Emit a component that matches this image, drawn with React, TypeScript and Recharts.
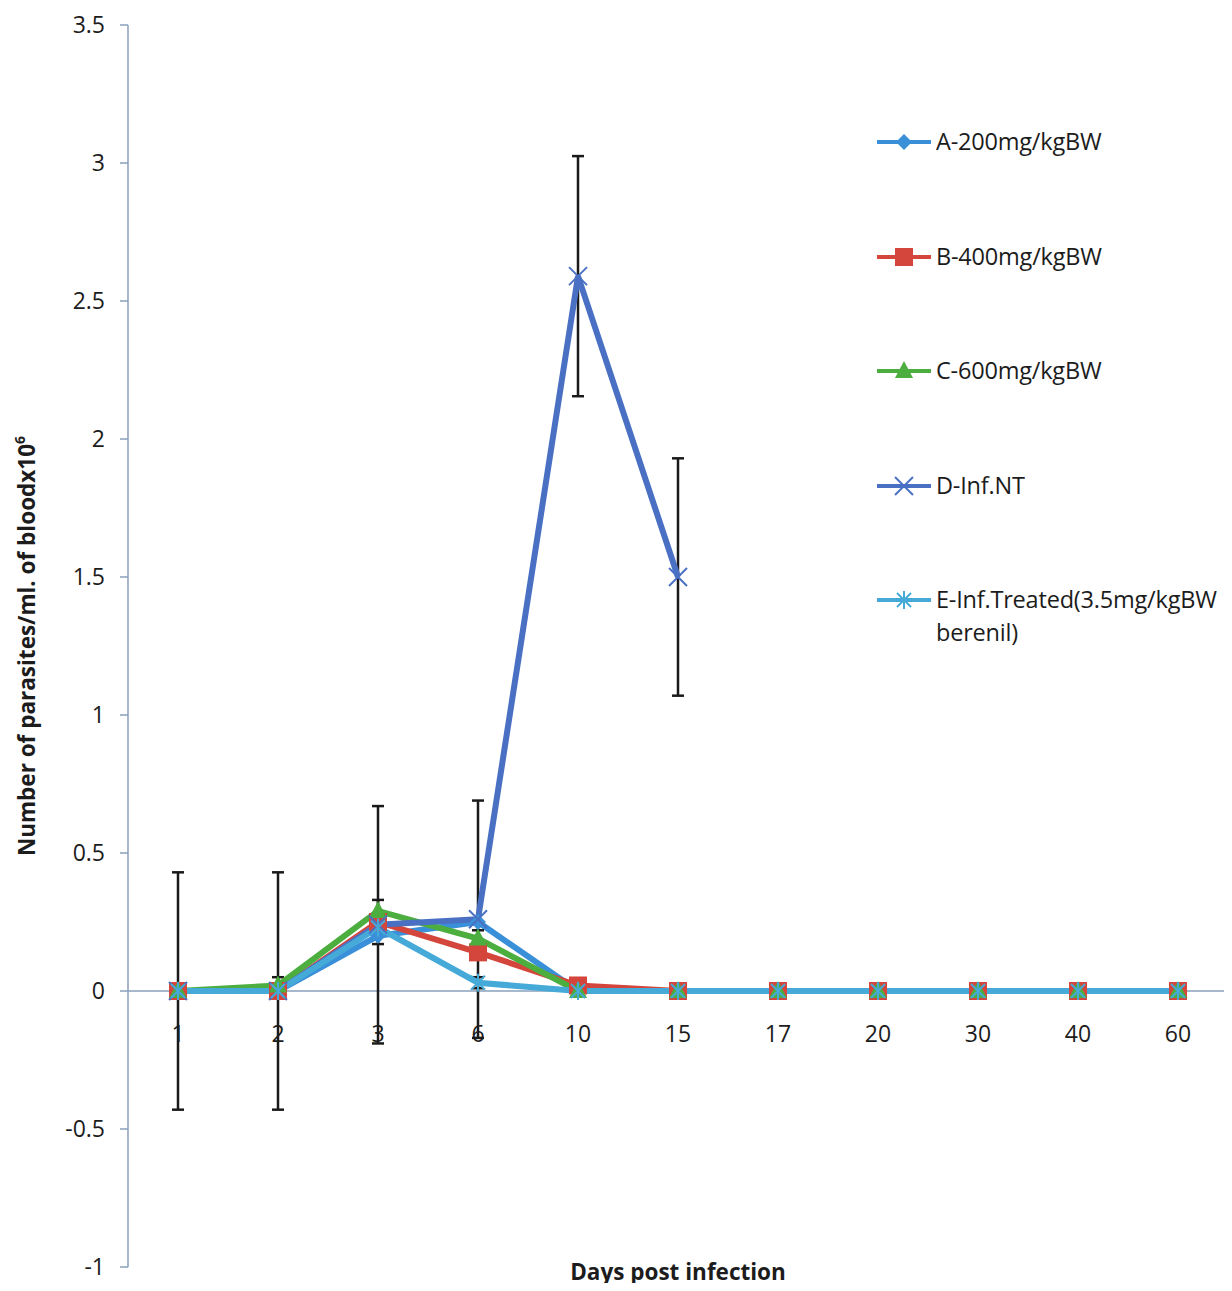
import React from 'react';
import {
  LineChart,
  Line,
  XAxis,
  YAxis,
  ReferenceLine,
  ReferenceDot,
  ErrorBar,
  Legend,
} from 'recharts';

// Days post infection (categorical x positions)
const days = ['1', '2', '3', '6', '10', '15', '17', '20', '30', '40', '60'];

// Parasitaemia (x10^6 parasites / ml of blood) per group
const groupA = [0, 0, 0.2, 0.25, 0, 0, 0, 0, 0, 0, 0];
const groupB = [0, 0, 0.25, 0.14, 0.02, 0, 0, 0, 0, 0, 0];
const groupC = [0, 0.02, 0.29, 0.19, 0, 0, 0, 0, 0, 0, 0];
const groupD = [0, 0, 0.24, 0.26, 2.59, 1.5, null, null, null, null, null];
const groupE = [0, 0, 0.23, 0.03, 0, 0, 0, 0, 0, 0, 0];

// Error bar half-ranges
const errB = [null, null, 0.08, null, null, null, null, null, null, null, null];
const errC = [null, 0.03, null, 0.03, null, null, null, null, null, null, null];
const errD = [0.43, 0.43, 0.43, 0.43, 0.435, 0.43, null, null, null, null, null];
const errE = [null, null, null, 0.02, null, null, null, null, null, null, null];

const yTicks = [-1, -0.5, 0, 0.5, 1, 1.5, 2, 2.5, 3, 3.5];

const seriesNames = [
  'A-200mg/kgBW',
  'B-400mg/kgBW',
  'C-600mg/kgBW',
  'D-Inf.NT',
  'E-Inf.Treated(3.5mg/kgBW berenil)',
];

const data = days.map((d, i) => ({
  day: d,
  a: groupA[i],
  b: groupB[i],
  c: groupC[i],
  d: groupD[i],
  e: groupE[i],
  eb: errB[i],
  ec: errC[i],
  ed: errD[i],
  ee: errE[i],
}));

const FONT = '"Open Sans", Lato, sans-serif';
const TEXT = '#1c1c1c';
const AXIS = '#8aa0bb';
const TICK_FS = 23;
const LEGEND_FS = 23.5;
const TITLE_FS = 22.5;
const LW = 6;

const COLORS = {
  a: '#3a90d8',
  b: '#d4463c',
  c: '#4cae3f',
  d: '#4a70c4',
  e: '#45aad8',
};

type Shape = 'diamond' | 'square' | 'triangle' | 'x' | 'star';

function Marker({ shape, cx, cy, color }: { shape: Shape; cx: number; cy: number; color: string }) {
  switch (shape) {
    case 'diamond':
      return (
        <polygon
          points={`${cx},${cy - 8} ${cx + 8},${cy} ${cx},${cy + 8} ${cx - 8},${cy}`}
          fill={color}
        />
      );
    case 'square':
      return <rect x={cx - 9} y={cy - 9} width={18} height={18} fill={color} />;
    case 'triangle':
      return (
        <polygon points={`${cx},${cy - 10} ${cx + 9},${cy + 7} ${cx - 9},${cy + 7}`} fill={color} />
      );
    case 'x':
      return (
        <g stroke={color} strokeWidth={2}>
          <line x1={cx - 9} y1={cy - 9} x2={cx + 9} y2={cy + 9} />
          <line x1={cx - 9} y1={cy + 9} x2={cx + 9} y2={cy - 9} />
        </g>
      );
    case 'star':
    default:
      return (
        <g stroke={color} strokeWidth={2}>
          <line x1={cx - 7} y1={cy - 7} x2={cx + 7} y2={cy + 7} />
          <line x1={cx - 7} y1={cy + 7} x2={cx + 7} y2={cy - 7} />
          <line x1={cx} y1={cy - 9} x2={cx} y2={cy + 9} />
        </g>
      );
  }
}

const makeDot = (shape: Shape, color: string) => (props: any) => {
  const { cx, cy, index, value } = props;
  if (value == null || cy == null || isNaN(cy)) return <g key={`m-${shape}-${index}`} />;
  return (
    <g key={`m-${shape}-${index}`}>
      <Marker shape={shape} cx={cx} cy={cy} color={color} />
    </g>
  );
};

const legendItems: { name: string; color: string; shape: Shape }[] = [
  { name: seriesNames[0], color: COLORS.a, shape: 'diamond' },
  { name: seriesNames[1], color: COLORS.b, shape: 'square' },
  { name: seriesNames[2], color: COLORS.c, shape: 'triangle' },
  { name: seriesNames[3], color: COLORS.d, shape: 'x' },
  { name: seriesNames[4], color: COLORS.e, shape: 'star' },
];

function LegendBox() {
  return (
    <div style={{ position: 'relative', width: 360, height: 540, fontFamily: FONT }}>
      {legendItems.map((it, i) => (
        <div
          key={it.name}
          style={{
            position: 'absolute',
            left: 0,
            top: i * 114.5,
            display: 'flex',
            alignItems: 'flex-start',
          }}
        >
          <svg width={62} height={34} style={{ flex: 'none' }}>
            <line x1={3} y1={17} x2={57} y2={17} stroke={it.color} strokeWidth={4} />
            <Marker shape={it.shape} cx={30} cy={17} color={it.color} />
          </svg>
          <div
            style={{
              width: 294,
              fontSize: LEGEND_FS,
              lineHeight: '33px',
              color: TEXT,
              letterSpacing: -0.2,
            }}
          >
            {it.name}
          </div>
        </div>
      ))}
    </div>
  );
}

const YLabel = (props: any) => {
  const { viewBox } = props;
  const cy = viewBox.y + viewBox.height / 2;
  const x = 35;
  return (
    <text
      x={x}
      y={cy}
      transform={`rotate(-90, ${x}, ${cy})`}
      textAnchor="middle"
      fontFamily={FONT}
      fontWeight={700}
      fontSize={TITLE_FS}
      fill={TEXT}
    >
      Number of parasites/ml. of bloodx10
      <tspan fontSize={14} dy={-10}>
        6
      </tspan>
    </text>
  );
};

export default function App() {
  return (
    <div style={{ margin: -8, width: 1232, height: 1291, background: '#fff' }}>
      <LineChart
        width={1232}
        height={1291}
        data={data}
        margin={{ top: 25, right: 4, bottom: 0, left: 0 }}
      >
        <XAxis
          dataKey="day"
          type="category"
          padding={{ left: 50, right: 50 }}
          axisLine={false}
          tickLine={false}
          tick={false}
          height={24}
          label={{
            value: 'Days post infection',
            position: 'insideTop',
            offset: -3,
            fontFamily: FONT,
            fontWeight: 700,
            fontSize: TITLE_FS,
            fill: TEXT,
          }}
        />
        <YAxis
          type="number"
          domain={[-1, 3.5]}
          ticks={yTicks}
          interval={0}
          width={128}
          axisLine={{ stroke: AXIS, strokeWidth: 1.5 }}
          tickLine={{ stroke: AXIS, strokeWidth: 1.5 }}
          tickSize={8}
          tickMargin={15}
          tick={{ fontFamily: FONT, fontSize: TICK_FS, fill: TEXT }}
          label={<YLabel />}
        />
        <ReferenceLine y={0} stroke={AXIS} strokeWidth={1.5} />
        {days.map((d) => (
          <ReferenceDot
            key={`lbl-${d}`}
            x={d}
            y={0}
            r={0}
            fill="none"
            stroke="none"
            label={{
              value: d,
              position: 'bottom',
              offset: 35,
              fontFamily: FONT,
              fontSize: TICK_FS,
              fill: TEXT,
            }}
          />
        ))}
        <Legend
          layout="vertical"
          align="center"
          verticalAlign="middle"
          wrapperStyle={{ left: 874, top: 125, width: 358 }}
          content={() => <LegendBox />}
        />
        <Line
          dataKey="a"
          name={seriesNames[0]}
          stroke={COLORS.a}
          strokeWidth={LW}
          dot={makeDot('diamond', COLORS.a)}
          isAnimationActive={false}
        />
        <Line
          dataKey="b"
          name={seriesNames[1]}
          stroke={COLORS.b}
          strokeWidth={LW}
          dot={makeDot('square', COLORS.b)}
          isAnimationActive={false}
        >
          <ErrorBar dataKey="eb" width={6} strokeWidth={2.5} stroke="#1a1a1a" direction="y" />
        </Line>
        <Line
          dataKey="c"
          name={seriesNames[2]}
          stroke={COLORS.c}
          strokeWidth={LW}
          dot={makeDot('triangle', COLORS.c)}
          isAnimationActive={false}
        >
          <ErrorBar dataKey="ec" width={6} strokeWidth={2.5} stroke="#1a1a1a" direction="y" />
        </Line>
        <Line
          dataKey="d"
          name={seriesNames[3]}
          stroke={COLORS.d}
          strokeWidth={LW}
          dot={makeDot('x', COLORS.d)}
          isAnimationActive={false}
        >
          <ErrorBar dataKey="ed" width={6} strokeWidth={2.5} stroke="#1a1a1a" direction="y" />
        </Line>
        <Line
          dataKey="e"
          name={seriesNames[4]}
          stroke={COLORS.e}
          strokeWidth={LW}
          dot={makeDot('star', COLORS.e)}
          isAnimationActive={false}
        >
          <ErrorBar dataKey="ee" width={6} strokeWidth={2.5} stroke="#1a1a1a" direction="y" />
        </Line>
      </LineChart>
    </div>
  );
}
